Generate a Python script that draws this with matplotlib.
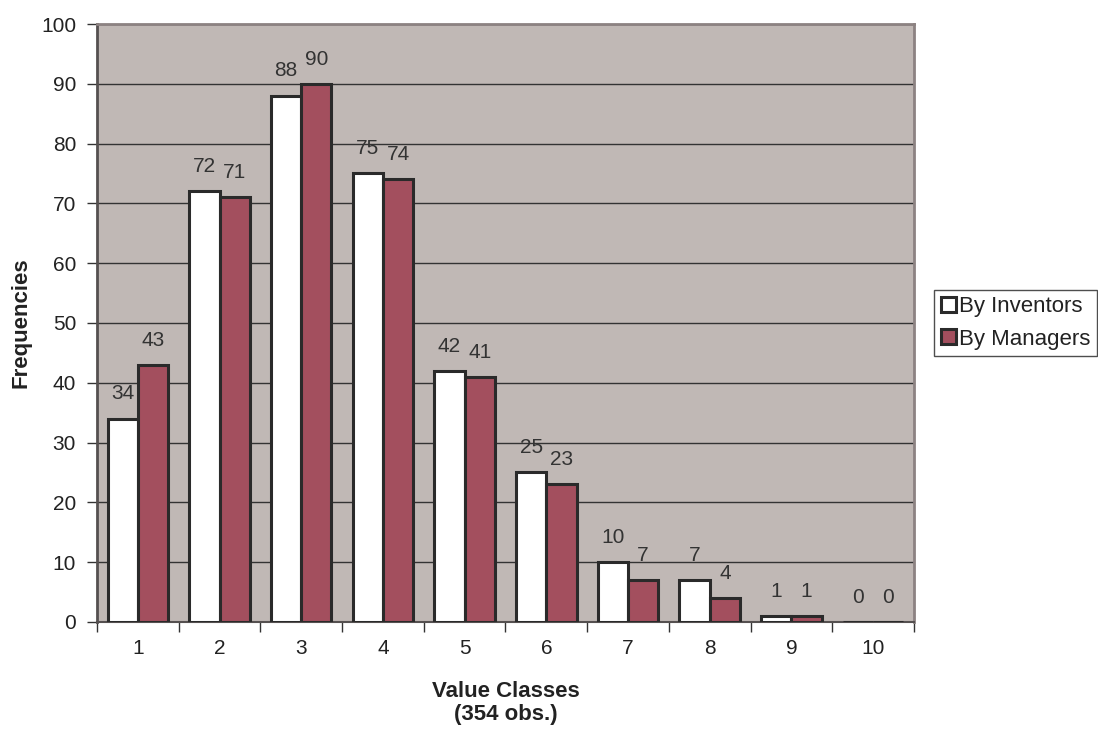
import numpy as np
import matplotlib.pyplot as plt

plt.rcParams['font.family'] = ['Liberation Sans', 'DejaVu Sans']

# Value classes and observed frequencies
classes = ['1', '2', '3', '4', '5', '6', '7', '8', '9', '10']
by_inventors = [34, 72, 88, 75, 42, 25, 10, 7, 1, 0]
by_managers = [43, 71, 90, 74, 41, 23, 7, 4, 1, 0]

fig = plt.figure(figsize=(10.98, 7.34), dpi=100)
ax = fig.add_axes([0.0883, 0.1526, 0.7441, 0.8147])
ax.set_facecolor('#C0B8B5')

x = np.arange(len(classes))
w = 0.37
bars1 = ax.bar(x - w / 2, by_inventors, w, color='white', edgecolor='#2a2a2a',
               linewidth=2.2, label='By Inventors', zorder=3)
bars2 = ax.bar(x + w / 2, by_managers, w, color='#A34F5E', edgecolor='#2a2a2a',
               linewidth=2.2, label='By Managers', zorder=3)

# Value labels above each bar
for bars, vals in ((bars1, by_inventors), (bars2, by_managers)):
    for b, v in zip(bars, vals):
        ax.annotate(str(v), (b.get_x() + b.get_width() / 2, v),
                    xytext=(0, 11), textcoords='offset points',
                    ha='center', va='bottom', fontsize=15, color='#333333')

ax.set_xlim(-0.5, len(classes) - 0.5)
ax.set_ylim(0, 100)
ax.set_yticks(range(0, 101, 10))
ax.yaxis.grid(True, color='#333333', linewidth=1.0, zorder=1)
ax.set_axisbelow(True)

# category labels centred, tick marks on category boundaries
ax.set_xticks(x)
ax.set_xticklabels(classes)
ax.tick_params(axis='x', length=0, pad=12, labelsize=15, labelcolor='#222222')
ax.set_xticks(np.arange(-0.5, len(classes)), minor=True)
ax.tick_params(axis='x', which='minor', length=7, width=1, color='#333333')
ax.tick_params(axis='y', length=7, width=1, color='#333333', pad=8,
               labelsize=15, labelcolor='#222222')

for side in ('top', 'right'):
    ax.spines[side].set_color('#8C8282')
    ax.spines[side].set_linewidth(2)
ax.spines['left'].set_color('#555050')
ax.spines['left'].set_linewidth(2)
ax.spines['bottom'].set_color('#555050')
ax.spines['bottom'].set_linewidth(1.5)

ax.set_xlabel('Value Classes\n(354 obs.)', fontsize=16, fontweight='bold',
              labelpad=17, linespacing=1.1, color='#222222')
ax.set_ylabel('Frequencies', fontsize=16, fontweight='bold', labelpad=7,
              color='#222222')

leg = fig.legend(handles=[bars1, bars2], loc='center left',
                 bbox_to_anchor=(0.851, 0.560), borderaxespad=0, fontsize=16,
                 frameon=True, fancybox=False, edgecolor='#222222',
                 handlelength=0.65, handleheight=0.65, handletextpad=0.15,
                 borderpad=0.3, labelspacing=0.5)
leg.get_frame().set_linewidth(1.0)
for t in leg.get_texts():
    t.set_color('#222222')

plt.savefig('out.png', dpi=100)
